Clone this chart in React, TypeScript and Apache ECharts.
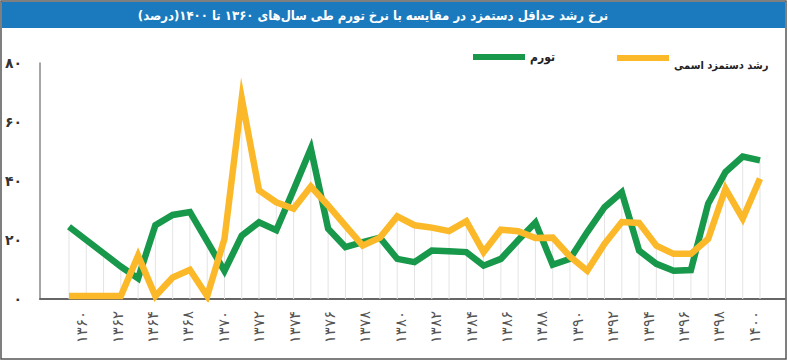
import React, { useEffect, useRef } from "react";
import * as echarts from "echarts";

const years = [
  "۱۳۶۰", "۱۳۶۱", "۱۳۶۲", "۱۳۶۳", "۱۳۶۴", "۱۳۶۵", "۱۳۶۶", "۱۳۶۷", "۱۳۶۸", "۱۳۶۹",
  "۱۳۷۰", "۱۳۷۱", "۱۳۷۲", "۱۳۷۳", "۱۳۷۴", "۱۳۷۵", "۱۳۷۶", "۱۳۷۷", "۱۳۷۸", "۱۳۷۹",
  "۱۳۸۰", "۱۳۸۱", "۱۳۸۲", "۱۳۸۳", "۱۳۸۴", "۱۳۸۵", "۱۳۸۶", "۱۳۸۷", "۱۳۸۸", "۱۳۸۹",
  "۱۳۹۰", "۱۳۹۱", "۱۳۹۲", "۱۳۹۳", "۱۳۹۴", "۱۳۹۵", "۱۳۹۶", "۱۳۹۷", "۱۳۹۸", "۱۳۹۹",
  "۱۴۰۰",
];

// تورم
const inflation = [
  24.5, 20, 15.5, 11, 7, 25, 28.5, 29.5, 19.5, 9.5,
  21.5, 26, 23.3, 37, 51, 23.8, 17.6, 19.3, 20.8, 13.6,
  12.5, 16.4, 16.2, 15.9, 11.3, 13.6, 19.9, 25.9, 11.6, 13.6,
  22.7, 31.1, 36.2, 16.4, 11.9, 9.6, 9.8, 32.3, 43, 48.3,
  47,
];

// رشد دستمزد اسمی
const wageGrowth = [
  1, 1, 1, 1, 14.7, 1, 7.3, 9.9, 1, 20.4,
  68, 36.8, 32.8, 30.6, 38.1, 31.7, 24.9, 18.1, 20.8, 28,
  25, 24.2, 23, 26.4, 15.9, 23.5, 23, 20.7, 20.8, 14.4,
  9.6, 18.7, 26.1, 25.8, 18.1, 15.3, 15.3, 20.4, 37.4, 27.3,
  40.8,
];

const xTickLabels = [
  "۱۳۶۰", "۱۳۶۲", "۱۳۶۴", "۱۳۶۸", "۱۳۷۰", "۱۳۷۲", "۱۳۷۴", "۱۳۷۶", "۱۳۷۸", "۱۳۸۰",
  "۱۳۸۲", "۱۳۸۴", "۱۳۸۶", "۱۳۸۸", "۱۳۹۰", "۱۳۹۲", "۱۳۹۴", "۱۳۹۶", "۱۳۹۸", "۱۴۰۰",
];

const yTickLabels = ["۰", "۲۰", "۴۰", "۶۰", "۸۰"];

const seriesNames = ["تورم", "رشد دستمزد اسمی"];
const titleText = "نرخ رشد حداقل دستمزد در مقایسه با نرخ تورم طی سال‌های ۱۳۶۰ تا ۱۴۰۰(درصد)";

const FONT = '"DejaVu Sans", sans-serif';
const FONT_C = '"DejaVu Sans Condensed", "DejaVu Sans", sans-serif';
const GREEN = "#17984a";
const YELLOW = "#fbb92a";

export default function App() {
  const ref = useRef<HTMLDivElement>(null);

  useEffect(() => {
    if (!ref.current) return;
    const chart = echarts.init(ref.current, undefined, { renderer: "svg" });
    const dropLines = inflation.map((v, i) => Math.max(v, wageGrowth[i]));

    const option: any = {
      animation: false,
      backgroundColor: "#ffffff",
      textStyle: { fontFamily: FONT },
      graphic: [
        {
          type: "rect",
          shape: { x: 1, y: 1, width: 785, height: 358 },
          style: { fill: "none", stroke: "#555", lineWidth: 1.5 },
          silent: true,
        },
        {
          type: "rect",
          shape: { x: 2, y: 2, width: 783, height: 26 },
          style: { fill: "#1b7abd" },
          silent: true,
        },
        {
          type: "text",
          x: 373,
          y: 15,
          style: {
            text: titleText,
            fill: "#ffffff",
            font: `bold 13px ${FONT_C}`,
            textAlign: "center",
            textVerticalAlign: "middle",
          },
          silent: true,
        },
      ],
      legend: [
        {
          data: [seriesNames[0]],
          left: 468,
          top: 46,
          icon: "rect",
          itemWidth: 52,
          itemHeight: 6,
          itemGap: 0,
          textStyle: { fontFamily: FONT_C, fontSize: 12, fontWeight: "bold", color: "#222" },
        },
        {
          data: [seriesNames[1]],
          left: 612,
          top: 39,
          icon: "rect",
          itemWidth: 52,
          itemHeight: 6,
          itemGap: 0,
          formatter: (name: string) => "\n" + name,
          textStyle: {
            fontFamily: FONT_C,
            fontSize: 11,
            fontWeight: "bold",
            color: "#222",
            lineHeight: 14,
          },
        },
      ],
      grid: [
        { left: 40, right: 3, top: 63, bottom: 62 },
        { left: 69, right: 28, top: 63, bottom: 62 },
        { left: 64.5, right: 15.5, top: 63, bottom: 62 },
      ],
      xAxis: [
        {
          gridIndex: 0,
          type: "value",
          min: 0,
          max: 1,
          axisLine: { show: true, onZero: false, lineStyle: { color: "#666", width: 2 } },
          axisTick: { show: false },
          axisLabel: { show: false },
          splitLine: { show: false },
        },
        {
          gridIndex: 1,
          type: "category",
          data: years,
          boundaryGap: false,
          axisLine: { show: false },
          axisTick: { show: false },
          axisLabel: { show: false },
          splitLine: { show: false },
        },
        {
          gridIndex: 2,
          type: "category",
          data: xTickLabels,
          boundaryGap: true,
          axisLine: { show: false },
          axisTick: { show: false },
          splitLine: { show: false },
          axisLabel: {
            show: true,
            interval: 0,
            rotate: 90,
            margin: 12,
            color: "#555",
            fontSize: 15,
            fontFamily: FONT,
          },
        },
      ],
      yAxis: [
        {
          gridIndex: 0,
          type: "value",
          min: 0,
          max: 80,
          interval: 20,
          axisLine: { show: true, lineStyle: { color: "#888", width: 1.5 } },
          axisTick: { show: false },
          splitLine: { show: false },
          axisLabel: {
            margin: 18,
            color: "#333",
            fontSize: 14,
            fontWeight: "bold",
            fontFamily: FONT,
            formatter: (v: number) => yTickLabels[Math.round(v / 20)] ?? "",
          },
        },
        {
          gridIndex: 1,
          type: "value",
          min: 0,
          max: 80,
          show: false,
        },
        {
          gridIndex: 2,
          type: "value",
          min: 0,
          max: 80,
          show: false,
        },
      ],
      series: [
        {
          type: "bar",
          name: "drop",
          xAxisIndex: 1,
          yAxisIndex: 1,
          data: dropLines,
          barWidth: 1,
          itemStyle: { color: "#e4e4e4" },
          silent: true,
          z: 1,
        },
        {
          type: "line",
          name: seriesNames[0],
          xAxisIndex: 1,
          yAxisIndex: 1,
          data: inflation,
          symbol: "none",
          lineStyle: { color: GREEN, width: 6.5, join: "miter", miterLimit: 8 },
          itemStyle: { color: GREEN },
          z: 3,
        },
        {
          type: "line",
          name: seriesNames[1],
          xAxisIndex: 1,
          yAxisIndex: 1,
          data: wageGrowth,
          symbol: "none",
          lineStyle: { color: YELLOW, width: 6.5, join: "miter", miterLimit: 8 },
          itemStyle: { color: YELLOW },
          z: 4,
        },
      ],
    };

    chart.setOption(option);
    return () => chart.dispose();
  }, []);

  return (
    <div
      ref={ref}
      style={{ position: "fixed", left: 0, top: 0, width: 788, height: 361, background: "#fff" }}
    />
  );
}
